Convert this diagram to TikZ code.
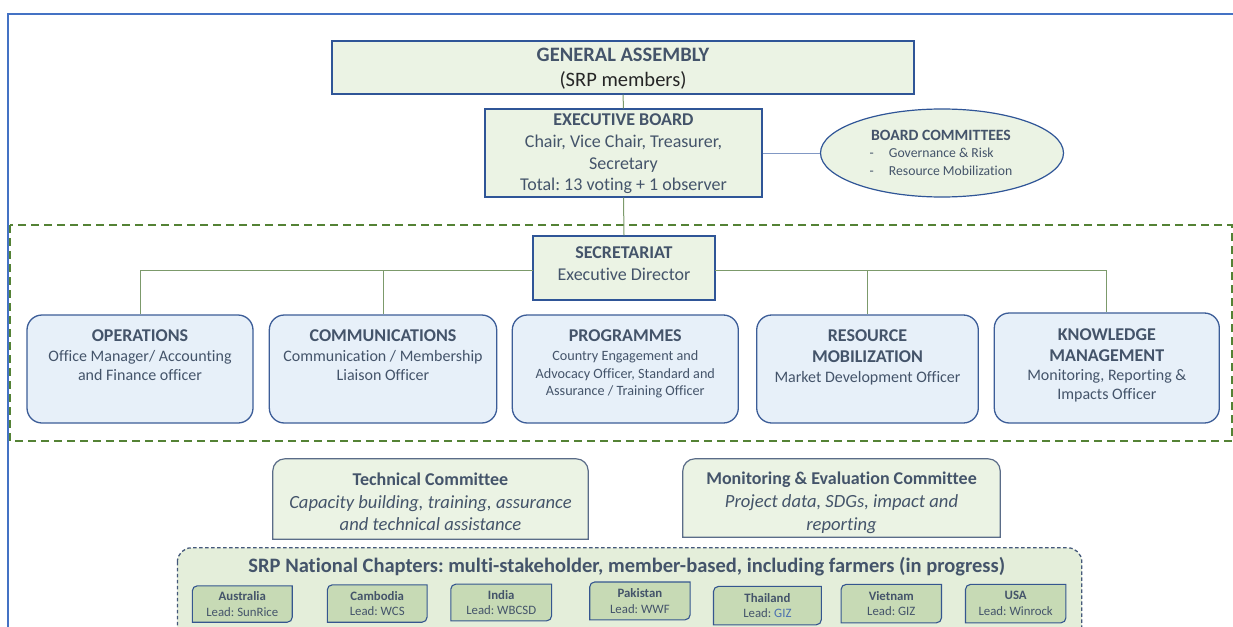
\documentclass[tikz,border=0pt]{standalone}
\usepackage{fontspec}
\setmainfont{Carlito}[Ligatures=CommonOff]
\usetikzlibrary{calc,shapes.geometric}
\pgfdeclarelayer{bg}
\pgfsetlayers{bg,main}
\definecolor{framec}{HTML}{4472C4}
\definecolor{dashg}{HTML}{548235}
\definecolor{boxb}{HTML}{2F5597}
\definecolor{gfill}{HTML}{EBF3E4}
\definecolor{dfill}{HTML}{E7F0F9}
\definecolor{deptb}{HTML}{3C5D98}
\definecolor{txtc}{HTML}{44546A}
\definecolor{darkt}{HTML}{262626}
\definecolor{connc}{HTML}{7C9A6B}
\definecolor{bcline}{HTML}{8198C4}
\definecolor{techb}{HTML}{5A6C88}
\definecolor{contfill}{HTML}{E4EEDA}
\definecolor{contb}{HTML}{44587A}
\definecolor{chapfill}{HTML}{C7DAB5}
\definecolor{chapb}{HTML}{35568F}
\definecolor{gizc}{HTML}{4A6FB0}
\newcommand{\myfs}[2]{\fontsize{#1}{#2}\selectfont}
\frenchspacing
\begin{document}
\begin{tikzpicture}[x=1pt,y=-1pt,
  every node/.append style={execute at begin node=\frenchspacing},
  gbox/.style={draw=boxb, fill=gfill, line width=1.3pt, inner sep=0},
  dept/.style={draw=deptb, fill=dfill, line width=1.3pt, rounded corners=15pt, inner sep=0},
  txt/.style={text=txtc, align=center, inner sep=0},
  conn/.style={draw=connc, line width=1pt},
  plain/.style={inner sep=0},
  techshape/.style={draw=techb, fill=gfill, line width=1.2pt},
  chapshape/.style={draw=chapb, fill=chapfill, line width=1.1pt},
  chap/.style={txt, inner sep=0, font=\myfs{12.8}{15.6}},
  depttitle/.style={txt, font=\myfs{16}{19.5}}
]
\useasboundingbox (0,0) rectangle (1233,626);
\clip (0,0) rectangle (1233,626);

% outer frame and dashed region
\draw[framec, line width=2pt] (8,650) -- (8,14) -- (1250,14);
\draw[dashg, line width=2.5pt, dash pattern=on 8pt off 5pt] (10,225) rectangle (1232,441);

% top governance
\node[gbox, minimum width=582pt, minimum height=53pt] (ga) at (623,67.5) {};
\node[txt, font=\myfs{20.5}{24.7}] (gaT) at (623,68.4) {{\bfseries GENERAL ASSEMBLY}\\{\color{darkt}(SRP members)}};

\node[gbox, minimum width=277pt, minimum height=88pt] (eb) at (623.5,153) {};
\node[txt, font=\myfs{18}{21.9}] (ebT) at (623.5,153.7) {{\bfseries EXECUTIVE BOARD}\\Chair, Vice Chair, Treasurer,\\Secretary\\Total: 13 voting + 1 observer};

\node[ellipse, draw=boxb, fill=gfill, line width=1.2pt, minimum width=243pt, minimum height=88pt, inner sep=0] (bc) at (942,153) {};
\node[txt, font=\myfs{13.7}{17.5}] (bcT) at (941,154.2) {\begin{tabular}{@{}l@{\hspace{15pt}}l@{}}\multicolumn{2}{@{}c@{}}{\myfs{15.7}{17.5}\bfseries BOARD COMMITTEES}\\-&Governance \& Risk\\-&Resource Mobilization\end{tabular}};

\node[gbox, minimum width=182pt, minimum height=64pt] (sec) at (624,268) {};
\node[txt, font=\myfs{18}{21.6}] (secT) at (624,263.5) {{\bfseries SECRETARIAT}\\Executive Director};

% departments
\node[dept, minimum width=226pt, minimum height=108pt] (ops) at (140,369) {};
\node[depttitle] (opsT) at (140,355.5) {{\myfs{18}{19.5}\bfseries OPERATIONS}\\Office Manager/ Accounting\\and Finance officer};

\node[dept, minimum width=227.4pt, minimum height=108pt] (comm) at (383,369) {};
\node[depttitle] (commT) at (383,355.5) {{\myfs{18}{19.5}\bfseries COMMUNICATIONS}\\Communication / Membership\\Liaison Officer};

\node[dept, minimum width=226pt, minimum height=108pt] (prog) at (625.3,369) {};
\node[txt, font=\myfs{14.2}{17.3}] (progT) at (625.3,363.7) {{\myfs{18}{17.3}\bfseries PROGRAMMES}\\[2pt]Country Engagement and\\Advocacy Officer, Standard and\\Assurance / Training Officer};

\node[dept, minimum width=221.6pt, minimum height=108pt] (rm) at (867.5,369) {};
\node[txt, font=\myfs{18}{21}] (rmT) at (867.5,357.5) {{\bfseries RESOURCE}\\{\bfseries MOBILIZATION}\\[-1pt]{\myfs{16}{20}Market Development Officer}};

\node[dept, minimum width=225pt, minimum height=110pt] (km) at (1106.8,368) {};
\node[txt, font=\myfs{16}{19}] (kmT) at (1106.8,365) {{\myfs{18}{19}\bfseries KNOWLEDGE}\\[2pt]{\myfs{18}{19}\bfseries MANAGEMENT}\\Monitoring, Reporting \&\\Impacts Officer};

% connectors
\draw[conn] (ga.south) -- (eb.north);
\draw[conn] (eb.south) -- (sec.north);
\draw[bcline, line width=1pt] (eb.east) -- (bc.west);
\coordinate (jl) at (533,270);
\coordinate (jr) at (715,270);
\draw[conn] (jl) -- (ops.north |- jl) -- (ops.north);
\draw[conn] (comm.north |- jl) -- (comm.north);
\draw[conn] (jr) -- (km.north |- jr) -- (km.north);
\draw[conn] (rm.north |- jr) -- (rm.north);

% committees
\node[plain, minimum width=315pt, minimum height=80pt] (tc) at (430.5,499) {};
\node[txt, font=\myfs{18.6}{22.3}] (tcT) at (430.5,502) {{\myfs{18}{22.3}\bfseries Technical Committee}\\\itshape Capacity building, training, assurance\\\itshape and technical assistance};
\node[plain, minimum width=317pt, minimum height=78pt] (me) at (841.5,498) {};
\node[txt, font=\myfs{18.6}{22.8}] (meT) at (841.5,502.7) {{\myfs{18}{22.8}\bfseries Monitoring \& Evaluation Committee}\\\itshape Project data, SDGs, impact and\\\itshape reporting};

% national chapters
\node[plain, minimum width=904pt, minimum height=132pt] (nc) at (629.6,614) {};
\node[txt, font=\myfs{20.5}{24}\bfseries] (ncT) at (626.8,566.5) {SRP National Chapters: multi-stakeholder, member-based, including farmers (in progress)};

\node[chap, minimum width=99.5pt, minimum height=36pt] (au) at (242.3,604) {{\bfseries Australia}\\Lead: SunRice};
\node[chap, minimum width=99.3pt, minimum height=37pt] (ca) at (377.2,603.5) {{\bfseries Cambodia}\\Lead: WCS};
\node[chap, minimum width=100.4pt, minimum height=36.3pt] (ind) at (501.2,602.5) {{\bfseries India}\\Lead: WBCSD};
\node[chap, minimum width=100pt, minimum height=37.4pt] (pk) at (639.9,600.9) {{\bfseries Pakistan}\\Lead: WWF};
\node[chap, minimum width=107.4pt, minimum height=38pt] (th) at (767.4,605.6) {{\bfseries Thailand}\\Lead: {\color{gizc}GIZ}};
\node[chap, minimum width=100pt, minimum height=38pt] (vn) at (891.3,603.6) {{\bfseries Vietnam}\\Lead: GIZ};
\node[chap, minimum width=100pt, minimum height=38pt] (us) at (1015.7,603.6) {{\bfseries USA}\\Lead: Winrock};

\begin{pgfonlayer}{bg}
  \fill[white] (0,0) rectangle (1233,626);
  \draw[contb, fill=contfill, line width=1.3pt, dash pattern=on 3.5pt off 2.5pt, rounded corners=14pt] (nc.north west) rectangle (nc.south east);
  \foreach \nm in {tc,me}{
    \path[techshape] let \p1=(\nm.north west), \p2=(\nm.south east) in
      (\x1,\y2) -- (\x1,{\y1-12pt}) .. controls (\x1,{\y1-5.4pt}) and ({\x1+5.4pt},\y1) .. ({\x1+12pt},\y1)
      -- ({\x2-12pt},\y1) .. controls ({\x2-5.4pt},\y1) and (\x2,{\y1-5.4pt}) .. (\x2,{\y1-12pt})
      -- (\x2,\y2) -- cycle;
  }
  \foreach \nm in {au,ca,ind,pk,th,vn,us}{
    \path[chapshape] let \p1=(\nm.north west), \p2=(\nm.south east) in
      (\x1,\y2) -- (\x1,{\y1-5pt}) .. controls (\x1,{\y1-2.2pt}) and ({\x1+2.2pt},\y1) .. ({\x1+5pt},\y1)
      -- (\x2,\y1) -- (\x2,{\y2+5pt}) .. controls (\x2,{\y2+2.2pt}) and ({\x2-2.2pt},\y2) .. ({\x2-5pt},\y2)
      -- cycle;
  }
\end{pgfonlayer}
\end{tikzpicture}
\end{document}
